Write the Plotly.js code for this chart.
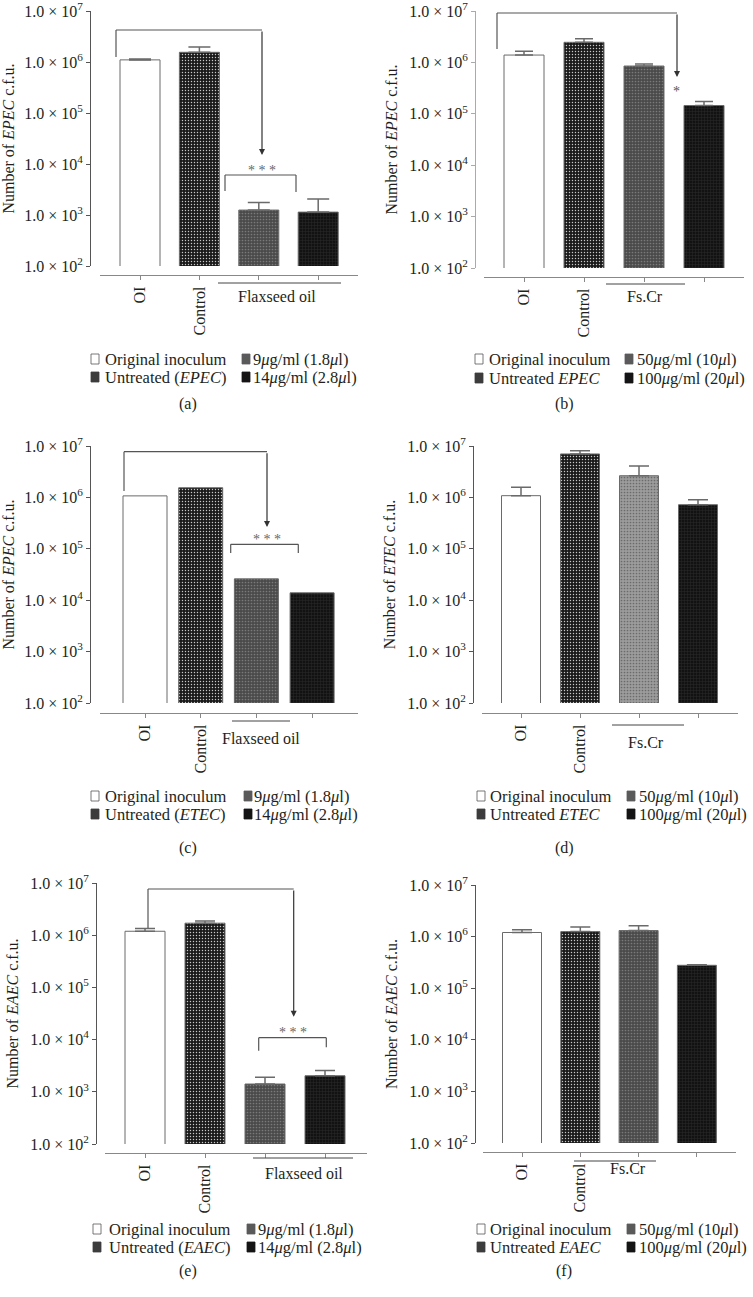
<!DOCTYPE html>
<html><head><meta charset="utf-8">
<script src="https://cdn.plot.ly/plotly-3.0.1.min.js"></script>
<style>body{margin:0;padding:0;background:#fff}#chart{width:753px;height:1297px}</style>
</head><body><div id="chart"></div>
<script>
// ---------------- data ----------------
const catLabels = ['OI', 'Control', '', ''];
const yTickVals = [1e2, 1e3, 1e4, 1e5, 1e6, 1e7];
const yTickText = ['1.0 × 10<sup>2</sup>', '1.0 × 10<sup>3</sup>', '1.0 × 10<sup>4</sup>', '1.0 × 10<sup>5</sup>', '1.0 × 10<sup>6</sup>', '1.0 × 10<sup>7</sup>'];

const namesA = ['Original inoculum', 'Untreated (<i>EPEC</i>)', '9<i>μ</i>g/ml (1.8<i>μ</i>l)', '14<i>μ</i>g/ml (2.8<i>μ</i>l)'];
const namesB = ['Original inoculum', 'Untreated <i>EPEC</i>', '50<i>μ</i>g/ml (10<i>μ</i>l)', '100<i>μ</i>g/ml (20<i>μ</i>l)'];
const namesC = ['Original inoculum', 'Untreated (<i>ETEC</i>)', '9<i>μ</i>g/ml (1.8<i>μ</i>l)', '14<i>μ</i>g/ml (2.8<i>μ</i>l)'];
const namesD = ['Original inoculum', 'Untreated <i>ETEC</i>', '50<i>μ</i>g/ml (10<i>μ</i>l)', '100<i>μ</i>g/ml (20<i>μ</i>l)'];
const namesE = ['Original inoculum', 'Untreated (<i>EAEC</i>)', '9<i>μ</i>g/ml (1.8<i>μ</i>l)', '14<i>μ</i>g/ml (2.8<i>μ</i>l)'];
const namesF = ['Original inoculum', 'Untreated <i>EAEC</i>', '50<i>μ</i>g/ml (10<i>μ</i>l)', '100<i>μ</i>g/ml (20<i>μ</i>l)'];

const aMean = [1.10e6, 1.55e6, 1.25e3, 1.14e3];
const aErr  = [0.05e6, 0.41e6, 0.50e3, 0.91e3];
const bMean = [1.39e6, 2.46e6, 8.5e5, 1.45e5];
const bErr  = [0.26e6, 0.44e6, 0.8e5, 0.28e5];
const cMean = [1.07e6, 1.54e6, 2.6e4, 1.39e4];
const cErr  = [0, 0, 0, 0];
const dMean = [1.08e6, 7.0e6, 2.64e6, 7.2e5];
const dErr  = [0.50e6, 1.1e6, 1.46e6, 1.8e5];
const eMean = [1.19e6, 1.70e6, 1.41e3, 2.03e3];
const eErr  = [0.15e6, 0.18e6, 0.50e3, 0.54e3];
const fMean = [1.20e6, 1.25e6, 1.31e6, 2.78e5];
const fErr  = [0.16e6, 0.29e6, 0.32e6, 0.08e5];

const yTitles = ['Number of <i>EPEC</i> c.f.u.', 'Number of <i>EPEC</i> c.f.u.', 'Number of <i>EPEC</i> c.f.u.',
                 'Number of <i>ETEC</i> c.f.u.', 'Number of <i>EAEC</i> c.f.u.', 'Number of <i>EAEC</i> c.f.u.'];
const groupLabels = ['Flaxseed oil', 'Fs.Cr', 'Flaxseed oil', 'Fs.Cr', 'Flaxseed oil', 'Fs.Cr'];
const panelLetters = ['(a)', '(b)', '(c)', '(d)', '(e)', '(f)'];

// ---------------- styling / geometry ----------------
const W = 753, H = 1297;
const FONT = 'Liberation Serif';
const TXT = '#231f20';
const fx = x => x / W, fy = y => 1 - y / H;

const fillsStd = [
  {color: '#ffffff', pattern: {shape: ''}},
  {color: '#1e1e1e', pattern: {shape: '.', bgcolor: '#1a1a1a', fgcolor: '#c8c8c8', size: 3, solidity: 0.18}},
  {color: '#555555', pattern: {shape: '.', bgcolor: '#4a4a4a', fgcolor: '#7a7a7a', size: 3, solidity: 0.25}},
  {color: '#161616', pattern: {shape: '+', bgcolor: '#121212', fgcolor: '#2c2c2c', size: 3, solidity: 0.3}}
];
const fillsD = [fillsStd[0], fillsStd[1],
  {color: '#a0a0a0', pattern: {shape: '.', bgcolor: '#9c9c9c', fgcolor: '#6a6a6a', size: 3, solidity: 0.25}},
  fillsStd[3]];
const swatch = ['#ffffff', '#3c3c3c', '#5a5a5a', '#141414'];

const panels = [
  {mean: aMean, err: aErr, names: namesA, fills: fillsStd, yAx: 90, y7: 11, y2: 266, xL: 100, xR: 358, xAxY: 275, c0: 140, dx: 59.4, bw: 40, yLine: '#555', ew: 11,
   refY: 6, refX: [90, 299], refDash: 'dot', grp: [218, 341, 283, 277, 297], letter: [188, 404],
   leg: {x1: 91, t1: 107, x2: 242, t2: 255, r1: 359, r2: 377}},
  {mean: bMean, err: bErr, names: namesB, fills: fillsStd, yAx: 475, y7: 11, y2: 268, xL: 484, xR: 744, xAxY: 277, c0: 524, dx: 60, bw: 40, yLine: '#aaa', ew: 9,
   refY: 6.105, refX: [475, 687], refDash: 'dot', grp: [606, 685, 284, 645, 297], letter: [564, 404],
   leg: {x1: 475, t1: 491, x2: 625, t2: 639, r1: 359, r2: 378}},
  {mean: cMean, err: cErr, names: namesC, fills: fillsStd, yAx: 90, y7: 446, y2: 703, xL: 100, xR: 358, xAxY: 713, c0: 145, dx: 55.7, bw: 44, yLine: '#555', ew: 10,
   refY: 6, refX: [90, 338], refDash: 'dot', grp: [232, 290, 721, 261, 738], letter: [188, 848],
   leg: {x1: 91, t1: 107, x2: 244, t2: 256, r1: 796, r2: 814}},
  {mean: dMean, err: dErr, names: namesD, fills: fillsD, yAx: 473, y7: 446, y2: 703, xL: 482, xR: 738, xAxY: 713, c0: 521, dx: 59, bw: 39, yLine: '#555', ew: 10,
   refY: 6, refX: [473, 753], refDash: 'dash', grp: [612, 684, 725, 646, 742], letter: [564, 848],
   leg: {x1: 477, t1: 492, x2: 627, t2: 641, r1: 796, r2: 814}},
  {mean: eMean, err: eErr, names: namesE, fills: fillsStd, yAx: 96, y7: 883, y2: 1144, xL: 105, xR: 367, xAxY: 1153, c0: 145, dx: 60, bw: 40, yLine: '#555', ew: 10,
   refY: 6, refX: [96, 348], refDash: 'dash', grp: [253, 353, 1158, 304, 1173], letter: [188, 1271],
   leg: {x1: 93, t1: 111, x2: 247, t2: 260, r1: 1229, r2: 1247}},
  {mean: fMean, err: fErr, names: namesF, fills: fillsStd, yAx: 475, y7: 885, y2: 1143, xL: 483, xR: 736, xAxY: 1152, c0: 522, dx: 58.3, bw: 39, yLine: '#555', ew: 10,
   refY: 6, refX: [475, 728], refDash: 'dash', grp: [574, 656, 1161, 628, 1168], letter: [564, 1271],
   leg: {x1: 477, t1: 492, x2: 627, t2: 641, r1: 1229, r2: 1247}}
];

const traces = [];
const layout = {
  width: W, height: H, margin: {l: 0, r: 0, t: 0, b: 0},
  paper_bgcolor: '#fff', plot_bgcolor: 'rgba(0,0,0,0)',
  barmode: 'overlay', showlegend: false,
  font: {family: FONT, size: 16, color: TXT},
  shapes: [], annotations: []
};

function line(x0, y0, x1, y1, color, width, dash) {
  layout.shapes.push({type: 'line', xref: 'paper', yref: 'paper', x0: fx(x0), y0: fy(y0), x1: fx(x1), y1: fy(y1),
    line: {color: color || '#555', width: width || 1.2, dash: dash || 'solid'}});
}
function text(x, y, t, opts) {
  layout.annotations.push(Object.assign({xref: 'paper', yref: 'paper', x: fx(x), y: fy(y), text: t, showarrow: false,
    xanchor: 'center', yanchor: 'middle', borderpad: 0, font: {family: FONT, size: 16, color: TXT}}, opts || {}));
}
function arrow(x, yTail, yHead) {
  layout.annotations.push({xref: 'paper', yref: 'paper', x: fx(x), y: fy(yHead), ax: 0, ay: -(yHead - yTail), text: '',
    showarrow: true, arrowhead: 2, arrowsize: 1, arrowwidth: 1.2, arrowcolor: '#333', standoff: 0});
}

panels.forEach((p, i) => {
  const n = i === 0 ? '' : String(i + 1);
  const xa = 'x' + n, ya = 'y' + n;
  p.mean.forEach((v, j) => {
    traces.push({
      type: 'bar', name: p.names[j], x: [j], y: [v], width: [p.bw / p.dx], xaxis: xa, yaxis: ya,
      marker: {color: p.fills[j].color, line: {color: '#6a6a6a', width: 1}, pattern: p.fills[j].pattern},
      error_y: {type: 'data', array: [p.err[j]], arrayminus: [0], symmetric: false, visible: p.err[j] > 0,
                color: '#6a6a6a', thickness: 1.5, width: p.ew},
      hoverinfo: 'name+y'
    });
  });
  layout['xaxis' + n] = {
    domain: [fx(p.xL), fx(p.xR)], range: [(p.xL - p.c0) / p.dx, (p.xR - p.c0) / p.dx],
    anchor: 'free', position: fy(p.xAxY), showline: true, linecolor: '#888', linewidth: 1.2,
    ticks: 'outside', ticklen: 4, tickcolor: '#888', tickwidth: 1,
    tickmode: 'array', tickvals: [0, 1, 2, 3], ticktext: catLabels, tickangle: -90,
    tickfont: {family: FONT, size: 16, color: TXT}, showgrid: false, zeroline: false, fixedrange: true,
    ticklabeloverflow: 'allow'
  };
  layout['yaxis' + n] = {
    domain: [fy(p.y2), fy(p.y7)], type: 'log', range: [2, 7],
    anchor: 'free', position: fx(p.yAx), showline: true, linecolor: p.yLine, linewidth: 1.3,
    ticks: 'outside', ticklen: 4, tickcolor: p.yLine, tickwidth: 1,
    tickmode: 'array', tickvals: yTickVals, ticktext: yTickText,
    tickfont: {family: FONT, size: 16, color: TXT}, showgrid: false, zeroline: false, fixedrange: true,
    ticklabeloverflow: 'allow',
    title: {text: yTitles[i], font: {family: FONT, size: 16, color: TXT}, standoff: 6}
  };
  // reference line at inoculum level
  layout.shapes.push({type: 'line', xref: 'paper', yref: ya, x0: fx(p.refX[0]), x1: fx(p.refX[1]), y0: p.refY, y1: p.refY,
    line: {color: '#222', width: p.refDash === 'dot' ? 1.5 : 2, dash: p.refDash}});
  // group label
  line(p.grp[0], p.grp[2], p.grp[1], p.grp[2], '#444', 1);
  text(p.grp[3], p.grp[4], groupLabels[i]);
  // panel letter
  text(p.letter[0], p.letter[1], panelLetters[i]);
  // legend
  const L = p.leg;
  [[L.x1, L.t1, L.r1, 0], [L.x1, L.t1, L.r2, 1], [L.x2, L.t2, L.r1, 2], [L.x2, L.t2, L.r2, 3]].forEach(([sx, tx, ry, k]) => {
    layout.shapes.push({type: 'rect', xref: 'paper', yref: 'paper', x0: fx(sx), x1: fx(sx + 8), y0: fy(ry - 5), y1: fy(ry + 5),
      fillcolor: swatch[k], line: {color: k === 0 ? '#555' : swatch[k], width: 0.8}});
    text(tx - 3, ry, p.names[k], {xanchor: 'left', font: {family: FONT, size: 16.5, color: TXT}});
  });
});

// significance annotations
// (a)
line(116, 57, 116, 30); line(116, 30, 262, 30); arrow(262, 30, 155);
text(262, 170, '* * *', {font: {family: FONT, size: 14, color: '#666'}});
line(225, 191, 225, 175); line(225, 175, 296, 175); line(296, 175, 296, 192);
// (b)
line(497, 49, 497, 13); line(497, 13, 677, 13); arrow(677, 13, 77);
text(676, 92, '*', {font: {family: FONT, size: 14, color: '#555'}});
// (c)
line(124, 491, 124, 451.7); line(124, 451.7, 267, 451.7); arrow(267, 451.7, 527);
text(267, 539, '* * *', {font: {family: FONT, size: 14, color: '#666'}});
line(230.7, 553, 230.7, 544.3); line(230.7, 544.3, 298.3, 544.3); line(298.3, 544.3, 298.3, 553);
// (e)
line(148, 928, 148, 889); line(148, 889, 293.7, 889); arrow(293.7, 889, 1016.7);
text(293, 1032, '* * *', {font: {family: FONT, size: 14, color: '#666'}});
line(258.7, 1050.7, 258.7, 1037.7); line(258.7, 1037.7, 326.3, 1037.7); line(326.3, 1037.7, 326.3, 1047.3);

Plotly.newPlot('chart', traces, layout, {staticPlot: true, displayModeBar: false});
</script>
</body></html>
